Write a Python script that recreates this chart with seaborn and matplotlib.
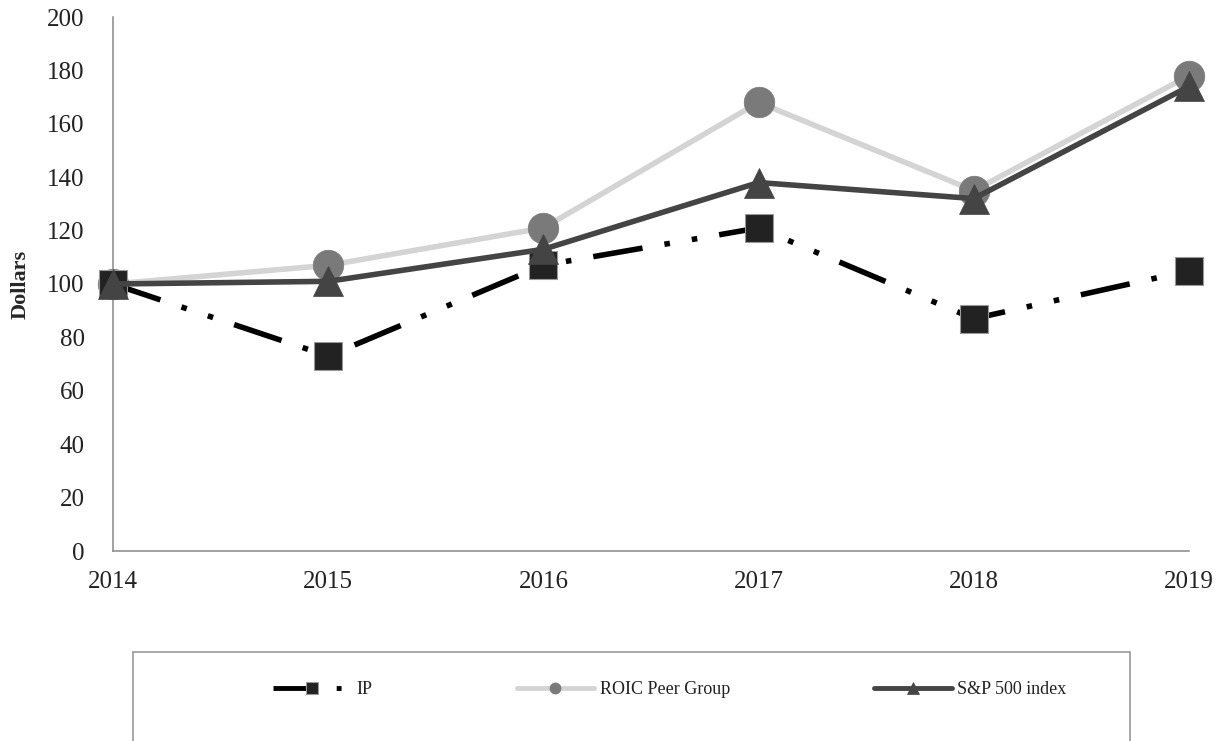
import matplotlib
matplotlib.use("Agg")
import matplotlib.pyplot as plt
from matplotlib.patches import Rectangle
import pandas as pd
import seaborn as sns

years = [2014, 2015, 2016, 2017, 2018, 2019]
ip = [100, 73, 107, 121, 87, 105]
roic_peer = [100, 107, 121, 168, 135, 178]
sp500 = [100, 101, 113, 138, 132, 174]

y_ticks = list(range(0, 201, 20))


def main():
    sns.set_style("white")
    plt.rcParams['font.family'] = ['Liberation Serif', 'DejaVu Serif']

    df = pd.DataFrame({"year": years, "IP": ip,
                       "ROIC Peer Group": roic_peer, "S&P 500 index": sp500})

    fig = plt.figure(figsize=(12.22, 7.41), dpi=100)
    ax = fig.add_axes([113 / 1222, 1 - 551 / 741, (1189 - 113) / 1222, (551 - 17) / 741])

    lw = 4
    sns.lineplot(data=df, x="year", y="ROIC Peer Group", ax=ax, color="#d4d4d4",
                 linewidth=lw, marker="o", markersize=22, markerfacecolor="#7a7a7a",
                 markeredgecolor="#7a7a7a", markeredgewidth=0.5,
                 label="ROIC Peer Group", clip_on=False, zorder=2)
    sns.lineplot(data=df, x="year", y="IP", ax=ax, color="black",
                 linewidth=lw, linestyle=(0, (9, 4, 1, 4, 1, 4)),
                 marker="s", markersize=20, markerfacecolor="#222222",
                 markeredgecolor="#999999", markeredgewidth=0.8,
                 label="IP", clip_on=False, zorder=3)
    sns.lineplot(data=df, x="year", y="S&P 500 index", ax=ax, color="#444444",
                 linewidth=lw, marker="^", markersize=22, markerfacecolor="#444444",
                 markeredgecolor="#444444", markeredgewidth=0.5,
                 label="S&P 500 index", clip_on=False, zorder=4)

    ax.set_xlim(years[0], years[-1])
    ax.set_ylim(0, 200)
    ax.set_xticks(years)
    ax.set_xticklabels([str(y) for y in years])
    ax.set_yticks(y_ticks)
    ax.set_xlabel("")
    ax.set_ylabel("Dollars", fontsize=16, fontweight="bold")
    ax.yaxis.set_label_coords(-0.077, 0.5)

    for side in ["top", "right"]:
        ax.spines[side].set_visible(False)
    for side in ["left", "bottom"]:
        ax.spines[side].set_color("#888888")
        ax.spines[side].set_linewidth(1.1)
    ax.tick_params(axis="both", direction="out", length=5.5, width=1,
                   color="#888888", labelsize=18, labelcolor="#222222")
    ax.tick_params(axis="y", pad=15)
    ax.tick_params(axis="x", pad=9)
    ax.set_zorder(1)

    handles, labels = ax.get_legend_handles_labels()
    if ax.get_legend() is not None:
        ax.get_legend().remove()
    order = [labels.index(n) for n in ["IP", "ROIC Peer Group", "S&P 500 index"]]
    leg = fig.legend([handles[i] for i in order], [labels[i] for i in order],
                     loc="center left", bbox_to_anchor=(273 / 1222, 1 - 690 / 741),
                     ncol=3, frameon=False, fontsize=13, handlelength=4.3,
                     handletextpad=0.3, columnspacing=8.0, borderpad=0,
                     borderaxespad=0)
    for h in leg.legend_handles:
        h.set_markersize(8)
        h.set_linewidth(3.5)
    for t in leg.get_texts():
        t.set_color("#222222")

    fig.patches.append(Rectangle((133 / 1222, -0.05), (1130 - 133) / 1222,
                                 1 - 652 / 741 + 0.05, transform=fig.transFigure,
                                 fill=False, edgecolor="#999999", linewidth=1.2))

    fig.savefig("out.png", dpi=100, facecolor="white")


if __name__ == '__main__':
    main()
